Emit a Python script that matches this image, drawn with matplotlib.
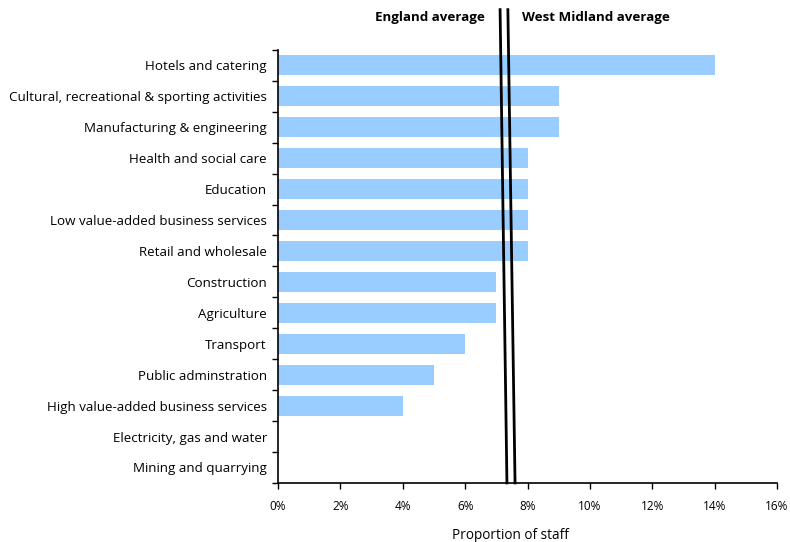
import matplotlib
matplotlib.use('Agg')
import matplotlib.pyplot as plt
import numpy as np

sectors = [
    'Hotels and catering',
    'Cultural, recreational & sporting activities',
    'Manufacturing & engineering',
    'Health and social care',
    'Education',
    'Low value-added business services',
    'Retail and wholesale',
    'Construction',
    'Agriculture',
    'Transport',
    'Public adminstration',
    'High value-added business services',
    'Electricity, gas and water',
    'Mining and quarrying',
]
share = [14, 9, 9, 8, 8, 8, 8, 7, 7, 6, 5, 4, 0, 0]

# averages drawn as slightly slanted lines: (value at top, value at bottom)
england_avg = (7.12, 7.34)
west_mid_avg = (7.37, 7.60)
xticks = [0, 2, 4, 6, 8, 10, 12, 14, 16]

plt.rcParams['font.family'] = ['Open Sans', 'DejaVu Sans']

fig = plt.figure(figsize=(7.9, 5.42), dpi=100)
ax = fig.add_axes([0.352, 0.109, 0.6315, 0.799])

n = len(sectors)
y = np.arange(n)
ax.barh(y, share, height=0.65, color='#99CCFF', zorder=1)
ax.set_ylim(n - 0.5, -0.5)
ax.set_xlim(0, 16)

ax.set_yticks(y)
ax.set_yticklabels(sectors, fontsize=9.6)
ax.set_yticks(np.arange(-0.5, n, 1), minor=True)
ax.tick_params(axis='y', which='major', length=0, pad=8)
ax.tick_params(axis='y', which='minor', length=4, width=1)

ax.set_xticks(xticks)
ax.set_xticklabels([f'{t}%' for t in xticks], fontsize=8.5)
ax.tick_params(axis='x', length=4, width=1, pad=8)
ax.set_xlabel('Proportion of staff', fontsize=9.8)
ax.xaxis.set_label_coords(0.465, -0.105)

for s in ['top', 'right']:
    ax.spines[s].set_visible(False)
for s in ['left', 'bottom']:
    ax.spines[s].set_linewidth(1.2)

# average lines run from above the plot down to the x axis
y_top = -1.8
for avg in (england_avg, west_mid_avg):
    ax.plot([avg[0], avg[1]], [y_top, n - 0.5], color='black', lw=2,
            clip_on=False, zorder=3)

ax.text(england_avg[0] - 0.5, y_top + 0.25, 'England average', fontsize=9.6,
        fontweight='bold', ha='right', va='center')
ax.text(west_mid_avg[0] + 0.45, y_top + 0.25, 'West Midland average', fontsize=9.6,
        fontweight='bold', ha='left', va='center')

fig.savefig('out.png', dpi=100)
